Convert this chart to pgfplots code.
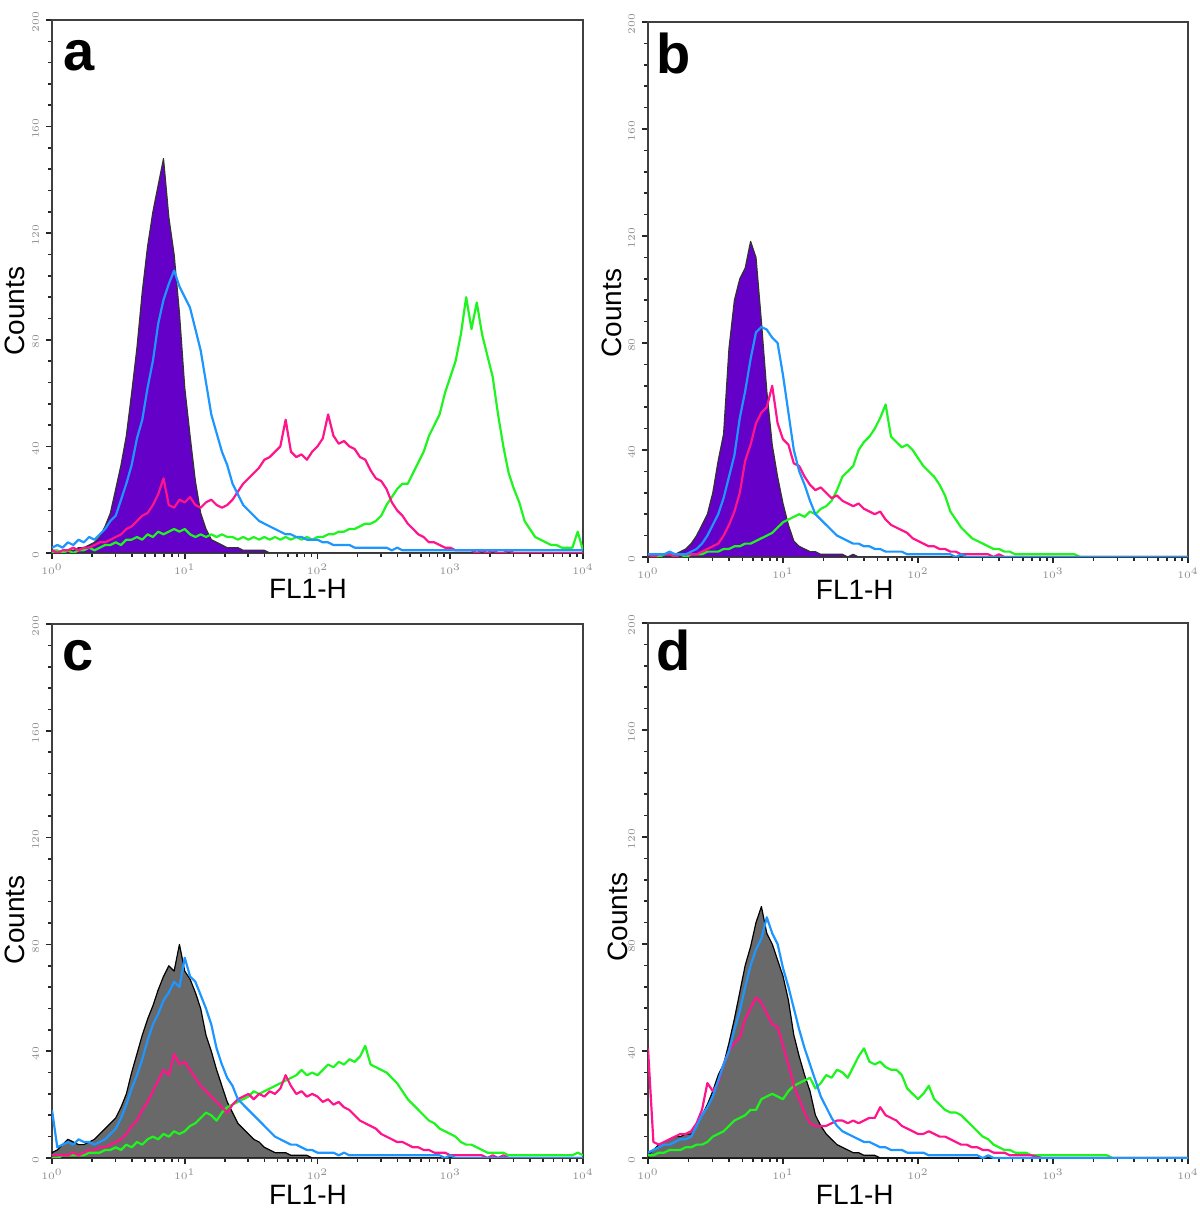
\documentclass[border=0pt]{standalone}
\usepackage{fontspec}
\setmainfont{Liberation Sans}
\setsansfont{Liberation Sans}
\usepackage{pgfplots}
\usepackage{pgfplotstable}
\pgfplotsset{compat=1.18}
\definecolor{purp}{RGB}{100,0,200}
\definecolor{cblue}{RGB}{30,150,255}
\definecolor{cpink}{RGB}{255,20,140}
\definecolor{cgreen}{RGB}{30,245,30}
\definecolor{cgray}{RGB}{105,105,105}

\pgfplotstableread{
x c b p g
0.00 1 2 1 0
0.04 1 3 0 1
0.08 0 2 1 0
0.12 1 4 1 1
0.16 1 3 2 0
0.20 2 5 1 1
0.24 2 4 2 1
0.28 3 6 2 2
0.32 4 5 3 1
0.36 6 7 4 2
0.40 10 9 4 3
0.44 15 12 5 3
0.48 24 14 6 4
0.52 33 20 7 3
0.56 44 26 9 5
0.60 60 33 10 5
0.64 77 43 12 6
0.68 98 50 14 5
0.72 115 62 15 7
0.76 128 72 18 6
0.80 138 86 22 8
0.84 148 95 28 7
0.88 126 101 18 8
0.92 112 106 17 9
0.96 90 100 20 8
1.00 62 96 19 9
1.04 44 92 21 7
1.08 27 84 18 6
1.12 15 76 17 7
1.16 9 64 19 6
1.20 5 52 20 7
1.24 4 45 18 6
1.28 3 38 17 7
1.32 2 33 18 6
1.36 2 26 20 6
1.40 2 22 23 5
1.44 1 18 26 6
1.48 1 16 28 5
1.52 1 14 30 6
1.56 1 12 32 5
1.60 1 11 35 6
1.64 0 10 36 5
1.68 0 9 38 6
1.72 0 8 40 5
1.76 0 7 50 6
1.80 0 7 38 5
1.84 0 6 36 6
1.88 0 6 37 5
1.92 0 5 35 6
1.96 0 5 38 5
2.00 0 5 40 6
2.04 0 4 43 6
2.08 0 4 52 7
2.12 0 3 44 7
2.16 0 3 41 8
2.20 0 3 42 8
2.24 0 3 40 9
2.28 0 2 39 9
2.32 0 2 36 10
2.36 0 2 35 11
2.40 0 2 31 11
2.44 0 2 28 12
2.48 0 2 27 14
2.52 0 2 24 18
2.56 0 1 19 21
2.60 0 2 16 24
2.64 0 1 14 26
2.68 0 1 11 26
2.72 0 1 9 30
2.76 0 1 7 34
2.80 0 1 6 38
2.84 0 1 4 44
2.88 0 1 4 48
2.92 0 1 3 52
2.96 0 1 2 60
3.00 0 1 2 66
3.04 0 1 1 72
3.08 0 1 1 82
3.12 0 1 1 96
3.16 0 1 1 84
3.20 0 1 0 94
3.24 0 1 1 82
3.28 0 1 0 74
3.32 0 1 1 66
3.36 0 1 0 52
3.40 0 1 0 40
3.44 0 1 1 30
3.48 0 1 0 24
3.52 0 1 0 19
3.56 0 1 0 12
3.60 0 1 0 9
3.64 0 1 0 6
3.68 0 1 0 5
3.72 0 1 0 4
3.76 0 1 0 3
3.80 0 1 0 3
3.84 0 1 0 2
3.88 0 1 0 2
3.92 0 1 0 2
3.96 0 1 0 8
4.00 0 1 0 1
}\ta

\pgfplotstableread{
x c b p g
0.00 1 1 1 1
0.04 1 1 0 1
0.08 0 1 1 0
0.12 1 1 1 1
0.16 1 2 1 1
0.20 1 1 0 1
0.24 2 1 1 1
0.28 3 1 1 0
0.32 5 2 1 1
0.36 8 3 1 1
0.40 12 5 2 1
0.44 16 8 3 2
0.48 24 12 4 2
0.52 36 16 5 2
0.56 46 22 8 3
0.60 78 30 12 3
0.64 96 38 17 4
0.68 104 52 24 4
0.72 108 62 36 5
0.76 118 74 42 5
0.80 112 84 50 6
0.84 88 86 54 7
0.88 62 85 56 8
0.92 42 82 64 9
0.96 30 80 50 11
1.00 20 68 44 13
1.04 12 54 42 14
1.08 6 40 35 15
1.12 4 32 34 16
1.16 3 27 30 15
1.20 2 21 27 17
1.24 2 16 25 16
1.28 1 14 26 18
1.32 1 12 24 19
1.36 1 10 22 21
1.40 1 8 23 25
1.44 1 7 21 30
1.48 0 6 20 32
1.52 1 5 19 34
1.56 0 5 20 40
1.60 0 4 18 43
1.64 0 4 17 45
1.68 0 3 16 48
1.72 0 3 17 52
1.76 0 2 14 57
1.80 0 2 12 45
1.84 0 2 11 43
1.88 0 2 10 41
1.92 0 1 9 42
1.96 0 1 7 40
2.00 0 1 6 37
2.04 0 1 5 34
2.08 0 1 4 32
2.12 0 1 4 30
2.16 0 1 3 27
2.20 0 1 3 23
2.24 0 1 2 17
2.28 0 0 2 14
2.32 0 1 1 11
2.36 0 0 1 9
2.40 0 0 1 7
2.44 0 0 1 6
2.48 0 0 1 5
2.52 0 0 1 4
2.56 0 0 0 3
2.60 0 0 1 3
2.64 0 0 0 2
2.68 0 0 0 2
2.72 0 0 0 1
2.76 0 0 0 1
2.80 0 0 0 1
2.84 0 0 0 1
2.88 0 0 0 1
2.92 0 0 0 1
2.96 0 0 0 1
3.00 0 0 0 1
3.04 0 0 0 1
3.08 0 0 0 1
3.12 0 0 0 1
3.16 0 0 0 1
3.20 0 0 0 0
3.40 0 0 0 0
4.00 0 0 0 0
}\tb

\pgfplotstableread{
x c b p g
0.00 2 18 1 0
0.04 3 4 1 0
0.08 5 5 1 1
0.12 7 6 1 1
0.16 6 5 2 1
0.20 5 7 1 1
0.24 5 6 2 1
0.28 6 6 3 2
0.32 7 5 3 2
0.36 9 6 4 2
0.40 11 7 4 3
0.44 13 9 5 3
0.48 15 11 6 4
0.52 19 15 7 3
0.56 24 20 9 5
0.60 32 26 12 4
0.64 39 31 14 6
0.68 46 37 18 5
0.72 52 44 21 7
0.76 57 50 25 8
0.80 63 54 29 7
0.84 68 59 33 9
0.88 72 62 31 8
0.92 70 66 39 10
0.96 80 64 35 9
1.00 70 75 36 10
1.04 67 68 33 12
1.08 62 66 30 13
1.12 56 61 27 15
1.16 46 56 25 17
1.20 40 50 23 16
1.24 33 41 21 14
1.28 27 35 19 17
1.32 21 30 17 19
1.36 17 27 20 20
1.40 13 22 22 21
1.44 11 20 23 22
1.48 9 18 24 23
1.52 7 16 22 25
1.56 6 14 24 24
1.60 4 12 23 25
1.64 3 10 25 26
1.68 2 8 24 27
1.72 2 7 26 28
1.76 2 6 31 29
1.80 1 5 27 30
1.84 1 5 24 31
1.88 1 4 25 33
1.92 1 3 23 31
1.96 0 3 24 32
2.00 0 2 23 31
2.04 0 2 21 33
2.08 0 2 22 35
2.12 0 2 20 34
2.16 0 1 21 36
2.20 0 2 19 35
2.24 0 1 18 37
2.28 0 1 16 36
2.32 0 1 14 38
2.36 0 1 13 42
2.40 0 1 12 35
2.44 0 1 11 34
2.48 0 1 9 33
2.52 0 1 8 32
2.56 0 1 7 30
2.60 0 1 6 28
2.64 0 1 6 25
2.68 0 1 5 22
2.72 0 1 4 20
2.76 0 1 4 18
2.80 0 1 3 16
2.84 0 1 3 14
2.88 0 1 2 13
2.92 0 1 2 11
2.96 0 0 2 10
3.00 0 1 1 9
3.04 0 0 1 8
3.08 0 0 1 6
3.12 0 0 1 5
3.16 0 0 1 5
3.20 0 0 1 4
3.24 0 0 1 3
3.28 0 0 0 2
3.32 0 0 1 2
3.36 0 0 0 2
3.40 0 0 1 2
3.44 0 0 0 1
3.52 0 0 0 1
3.60 0 0 0 1
3.68 0 0 0 1
3.76 0 0 0 1
3.84 0 0 0 1
3.92 0 0 0 1
3.96 0 0 0 2
4.00 0 0 0 1
}\tc

\pgfplotstableread{
x c b p g
0.00 1 2 41 1
0.04 3 3 6 1
0.08 5 4 5 2
0.12 6 5 6 2
0.16 7 5 7 3
0.20 8 6 8 3
0.24 8 7 9 3
0.28 9 7 9 4
0.32 9 8 10 4
0.36 12 12 13 5
0.40 16 16 18 5
0.44 20 19 28 6
0.48 25 23 25 8
0.52 31 29 28 9
0.56 35 35 35 10
0.60 43 40 40 12
0.64 52 48 43 14
0.68 62 55 45 15
0.72 72 64 52 16
0.76 79 72 56 18
0.80 88 78 60 18
0.84 94 82 58 22
0.88 84 90 54 23
0.92 80 84 50 24
0.96 74 80 49 23
1.00 68 71 42 22
1.04 59 64 35 25
1.08 46 56 27 27
1.12 38 48 22 28
1.16 31 41 17 29
1.20 25 35 13 30
1.24 16 29 12 26
1.28 12 23 12 28
1.32 9 19 12 31
1.36 7 15 13 30
1.40 5 12 14 33
1.44 4 10 14 32
1.48 3 9 13 30
1.52 2 8 14 34
1.56 2 7 13 38
1.60 1 6 14 41
1.64 1 6 15 36
1.68 1 5 15 35
1.72 0 4 19 36
1.76 0 4 16 34
1.80 0 3 15 33
1.84 0 3 14 33
1.88 0 3 12 31
1.92 0 2 11 26
1.96 0 2 10 24
2.00 0 2 9 22
2.04 0 2 9 24
2.08 0 1 10 27
2.12 0 1 9 22
2.16 0 1 8 20
2.20 0 1 8 18
2.24 0 1 7 17
2.28 0 1 6 17
2.32 0 1 5 16
2.36 0 1 5 14
2.40 0 1 4 12
2.44 0 1 4 10
2.48 0 0 3 8
2.52 0 1 3 7
2.56 0 0 2 5
2.60 0 0 2 4
2.64 0 0 2 3
2.68 0 0 1 3
2.72 0 0 1 2
2.76 0 0 1 2
2.80 0 0 1 2
2.84 0 0 1 1
2.92 0 0 0 1
3.00 0 0 0 1
3.08 0 0 0 1
3.16 0 0 0 1
3.24 0 0 0 1
3.32 0 0 0 1
3.40 0 0 0 1
3.44 0 0 0 0
4.00 0 0 0 0
}\td

\pgfplotsset{
  flow/.style={
    scale only axis,
    anchor=south west,
    xmin=0, xmax=4, ymin=0, ymax=200,
    xtick={0,1,2,3,4},
    xticklabels={$10^0$,$10^1$,$10^2$,$10^3$,$10^4$},
    minor xtick={0.301,0.477,0.602,0.699,0.778,0.845,0.903,0.954,
      1.301,1.477,1.602,1.699,1.778,1.845,1.903,1.954,
      2.301,2.477,2.602,2.699,2.778,2.845,2.903,2.954,
      3.301,3.477,3.602,3.699,3.778,3.845,3.903,3.954},
    ytick={0,40,80,120,160,200},
    minor y tick num=4,
    tick align=outside,
    xtick pos=bottom, ytick pos=left,
    major tick length=3pt, minor tick length=2pt,
    every tick/.style={black!85, line width=0.8pt},
    minor tick style={black!85, line width=0.8pt},
    tick label style={font=\fontsize{5.5}{5.5}\selectfont, text=black!45},
    yticklabel style={rotate=90, anchor=south, xshift=-1pt},
    xticklabel style={yshift=1pt},
    axis line style={black!75, line width=0.9pt},
    label style={font=\fontsize{14}{14}\selectfont},
    ylabel={Counts}, xlabel={FL1-H},
    every axis plot/.append style={line width=1.1pt, line join=round},
  },
}
\tikzset{
  letter/.style={anchor=north west, inner sep=0pt, font=\fontsize{28}{28}\selectfont\bfseries},
}

\begin{document}
\begin{tikzpicture}
\useasboundingbox (0,0) rectangle (600pt,606pt);

% panel a
\begin{axis}[flow, at={(26pt,329.5pt)}, width=265.5pt, height=266.5pt,
  ylabel style={at={(axis description cs:-0.07,0.454)}, anchor=center},
  xlabel style={at={(axis description cs:0.482,-0.068)}, anchor=center}]
\addplot[fill=purp, draw=black!80, line width=0.6pt] table[x=x,y=c] {\ta} \closedcycle;
\addplot[cgreen] table[x=x,y=g] {\ta};
\addplot[cpink] table[x=x,y=p] {\ta};
\addplot[cblue] table[x=x,y=b] {\ta};
\node[letter] at (rel axis cs:0.021,0.962) {a};
\end{axis}

% panel b
\begin{axis}[flow, at={(324pt,327.5pt)}, width=270pt, height=267.5pt,
  ylabel style={at={(axis description cs:-0.067,0.456)}, anchor=center},
  xlabel style={at={(axis description cs:0.383,-0.062)}, anchor=center}]
\addplot[fill=purp, draw=black!80, line width=0.6pt] table[x=x,y=c] {\tb} \closedcycle;
\addplot[cgreen] table[x=x,y=g] {\tb};
\addplot[cpink] table[x=x,y=p] {\tb};
\addplot[cblue] table[x=x,y=b] {\tb};
\node[letter] at (rel axis cs:0.015,0.981) {b};
\end{axis}

% panel c
\begin{axis}[flow, at={(26pt,27pt)}, width=265.5pt, height=267pt,
  ylabel style={at={(axis description cs:-0.07,0.446)}, anchor=center},
  xlabel style={at={(axis description cs:0.482,-0.069)}, anchor=center}]
\addplot[fill=cgray, draw=black, line width=0.6pt] table[x=x,y=c] {\tc} \closedcycle;
\addplot[cgreen] table[x=x,y=g] {\tc};
\addplot[cpink] table[x=x,y=p] {\tc};
\addplot[cblue] table[x=x,y=b] {\tc};
\node[letter] at (rel axis cs:0.019,0.97) {c};
\end{axis}

% panel d
\begin{axis}[flow, at={(324pt,27pt)}, width=270pt, height=267.5pt,
  ylabel style={at={(axis description cs:-0.056,0.45)}, anchor=center},
  xlabel style={at={(axis description cs:0.383,-0.069)}, anchor=center}]
\addplot[fill=cgray, draw=black, line width=0.6pt] table[x=x,y=c] {\td} \closedcycle;
\addplot[cgreen] table[x=x,y=g] {\td};
\addplot[cpink] table[x=x,y=p] {\td};
\addplot[cblue] table[x=x,y=b] {\td};
\node[letter] at (rel axis cs:0.015,0.987) {d};
\end{axis}
\end{tikzpicture}
\end{document}
